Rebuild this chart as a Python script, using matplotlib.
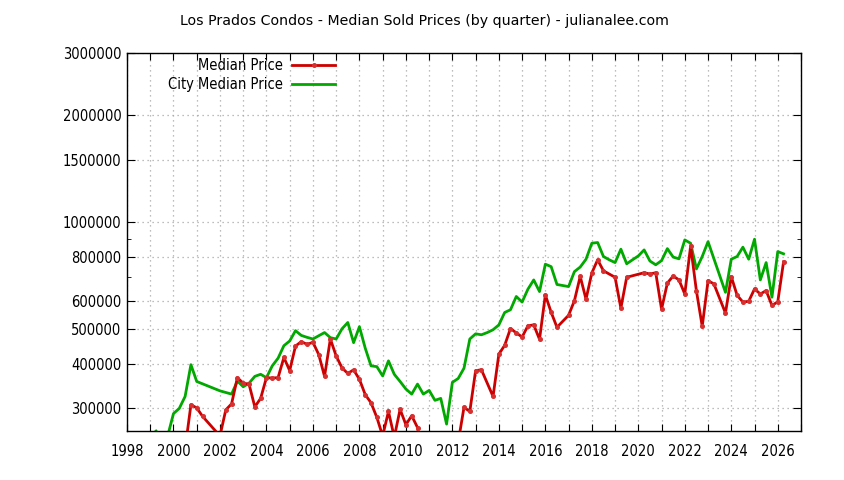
import matplotlib
matplotlib.use("Agg")
import matplotlib.pyplot as plt
from matplotlib.ticker import FixedLocator, FuncFormatter, NullFormatter, MultipleLocator
from matplotlib.lines import Line2D

# DATA (quarter as decimal year, median price)
red_t = [2000.5, 2000.75, 2001.0, 2001.25, 2002.0, 2002.25, 2002.5, 2002.75,
         2003.0, 2003.25, 2003.5, 2003.75, 2004.0, 2004.25, 2004.5, 2004.75,
         2005.0, 2005.25, 2005.5, 2005.75, 2006.0, 2006.25, 2006.5, 2006.75,
         2007.0, 2007.25, 2007.5, 2007.75, 2008.0, 2008.25, 2008.5, 2008.75,
         2009.0, 2009.25, 2009.5, 2009.75, 2010.0, 2010.25, 2010.5, 2010.75,
         2012.25, 2012.5, 2012.75, 2013.0, 2013.25, 2013.75,
         2014.0, 2014.25, 2014.5, 2014.75, 2015.0, 2015.25, 2015.5, 2015.75,
         2016.0, 2016.25, 2016.5, 2017.0, 2017.25, 2017.5, 2017.75,
         2018.0, 2018.25, 2018.5, 2019.0, 2019.25, 2019.5,
         2020.25, 2020.5, 2020.75, 2021.0, 2021.25, 2021.5, 2021.75,
         2022.0, 2022.25, 2022.5, 2022.75, 2023.0, 2023.25, 2023.75,
         2024.0, 2024.25, 2024.5, 2024.75, 2025.0, 2025.25, 2025.5, 2025.75,
         2026.0, 2026.25]
red_v = [230000, 306000, 300000, 284000, 250000, 296000, 308000, 365000,
         352000, 350000, 302000, 319000, 365000, 364000, 365000, 416000,
         382000, 448000, 461000, 453000, 459000, 424000, 368000, 469000,
         420000, 389000, 375000, 384000, 361000, 327000, 310000, 282000,
         250000, 293000, 248000, 297000, 269000, 285000, 264000, 210000,
         240000, 301000, 293000, 382000, 384000, 323000,
         425000, 450000, 502000, 488000, 475000, 511000, 514000, 468000,
         624000, 558000, 506000, 547000, 601000, 704000, 607000,
         720000, 784000, 730000, 700000, 573000, 700000,
         721000, 715000, 721000, 569000, 674000, 706000, 688000,
         628000, 857000, 641000, 509000, 684000, 671000, 555000,
         703000, 623000, 596000, 599000, 649000, 628000, 642000, 583000,
         597000, 774000]

green_t = [1999.25, 1999.5, 1999.75, 2000.0, 2000.25, 2000.5, 2000.75, 2001.0,
           2002.0, 2002.5, 2002.75, 2003.0, 2003.25, 2003.5, 2003.75,
           2004.0, 2004.25, 2004.5, 2004.75, 2005.0, 2005.25, 2005.5, 2005.75,
           2006.0, 2006.25, 2006.5, 2006.75, 2007.0, 2007.25, 2007.5, 2007.75,
           2008.0, 2008.25, 2008.5, 2008.75, 2009.0, 2009.25, 2009.5, 2009.75,
           2010.0, 2010.25, 2010.5, 2010.75, 2011.0, 2011.25, 2011.5, 2011.75,
           2012.0, 2012.25, 2012.5, 2012.75, 2013.0, 2013.25, 2013.5, 2013.75,
           2014.0, 2014.25, 2014.5, 2014.75, 2015.0, 2015.25, 2015.5, 2015.75,
           2016.0, 2016.25, 2016.5, 2017.0, 2017.25, 2017.5, 2017.75,
           2018.0, 2018.25, 2018.5, 2018.75, 2019.0, 2019.25, 2019.5, 2019.75,
           2020.0, 2020.25, 2020.5, 2020.75, 2021.0, 2021.25, 2021.5, 2021.75,
           2022.0, 2022.25, 2022.5, 2022.75, 2023.0, 2023.75,
           2024.0, 2024.25, 2024.5, 2024.75, 2025.0, 2025.25, 2025.5, 2025.75,
           2026.0, 2026.25]
green_v = [258000, 247000, 250000, 289000, 299000, 323000, 397000, 356000,
           335000, 328000, 357000, 344000, 352000, 368000, 373000,
           365000, 394000, 414000, 449000, 463000, 495000, 480000, 474000,
           469000, 479000, 489000, 473000, 469000, 501000, 522000, 458000,
           508000, 442000, 394000, 392000, 369000, 407000, 373000, 356000,
           339000, 328000, 350000, 328000, 336000, 315000, 319000, 270000,
           354000, 363000, 388000, 469000, 485000, 482000, 489000, 498000,
           514000, 557000, 567000, 618000, 596000, 648000, 688000, 638000,
           762000, 750000, 668000, 659000, 726000, 748000, 787000,
           873000, 877000, 801000, 784000, 770000, 840000, 764000, 784000,
           804000, 836000, 778000, 759000, 780000, 843000, 798000, 789000,
           892000, 873000, 739000, 801000, 882000, 635000,
           787000, 801000, 851000, 787000, 896000, 688000, 770000, 615000,
           827000, 815000]

y_ticks = [300000, 400000, 500000, 600000, 800000, 1000000, 1500000, 2000000, 3000000]
y_minor = [700000, 900000]

title = "Los Prados Condos - Median Sold Prices (by quarter) - julianalee.com"
red_color = "#cc0000"
mark_color = "#d83030"
green_color = "#00a800"

plt.rcParams['font.family'] = ['DejaVu Sans']
plt.rcParams['font.stretch'] = 'condensed'

fig = plt.figure(figsize=(8.44, 4.8), dpi=100)
ax = fig.add_axes([127/844, 1 - 430.5/480, (801 - 127)/844, (430.5 - 53)/480])

ax.plot(red_t, red_v, color=red_color, lw=2, marker='o', ms=2.6, mfc=mark_color, mec=mark_color, zorder=3)
ax.plot(green_t, green_v, color=green_color, lw=2, zorder=2)

ax.set_yscale('log')
ax.set_xlim(1998, 2027)
ax.set_ylim(259000, 3000000)

ax.yaxis.set_major_locator(FixedLocator(y_ticks))
ax.yaxis.set_major_formatter(FuncFormatter(lambda v, p: "%d" % int(round(v))))
ax.yaxis.set_minor_locator(FixedLocator(y_minor))
ax.yaxis.set_minor_formatter(NullFormatter())

ax.xaxis.set_major_locator(MultipleLocator(1))
ax.xaxis.set_major_formatter(FuncFormatter(lambda v, p: "%d" % int(round(v)) if int(round(v)) % 2 == 0 else ""))

ax.tick_params(which='both', direction='in', top=True, right=True, labelsize=10.5, colors='black')
ax.tick_params(axis='y', which='major', length=6, pad=4)
ax.tick_params(axis='y', which='minor', length=3)
ax.tick_params(axis='x', which='major', length=5, pad=10)

ax.grid(True, which='major', color='#a8a8a8', linestyle=(0, (1, 3)), lw=0.9)
for s in ax.spines.values():
    s.set_linewidth(1.0)

fig.text(424/844, 1 - 21/480, title, ha='center', va='center', fontsize=10.2, fontstretch='normal')

# legend, gnuplot style: right-aligned text, sample to the right
fig.text(283/844, 1 - 65/480, "Median Price", ha='right', va='center', fontsize=10.5)
fig.text(283/844, 1 - 84.3/480, "City Median Price", ha='right', va='center', fontsize=10.5)
fig.add_artist(Line2D([292/844, 335/844], [1 - 65/480, 1 - 65/480], color=red_color, lw=2))
fig.add_artist(Line2D([314/844], [1 - 65/480], color=red_color, marker='o', ms=2.6, mfc=mark_color, mec=mark_color))
fig.add_artist(Line2D([292/844, 335/844], [1 - 84.3/480, 1 - 84.3/480], color=green_color, lw=2))

fig.savefig("out.png", dpi=100)
